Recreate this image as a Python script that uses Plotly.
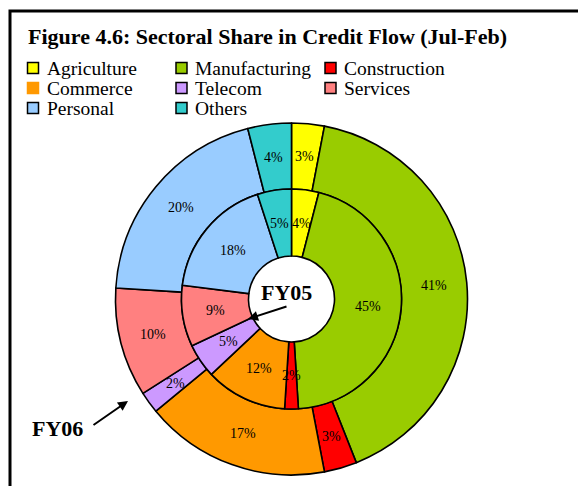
import math
import plotly.graph_objects as go

# ---- data ----
sectors = ["Agriculture", "Manufacturing", "Construction", "Commerce",
           "Telecom", "Services", "Personal", "Others"]
fy05 = [4, 45, 2, 12, 5, 9, 18, 5]   # inner ring
fy06 = [3, 41, 3, 17, 2, 10, 20, 4]  # outer ring
colors = ["#FFFF00", "#99CC00", "#FF0000", "#FF9900",
          "#CC99FF", "#FF8080", "#99CCFF", "#33CCCC"]
legend_border = ["black", "black", "black", "#FF9900",
                 "black", "black", "black", "black"]

W, H = 578, 486
SERIF = "Liberation Serif, Times New Roman, serif"


def px(x):
    return x / W


def py(y):
    return 1 - y / H


cx, cy = 291.5, 299
R_out, R_in, R_hole = 176, 110, 43


def dom(r):
    return dict(x=[px(cx - r), px(cx + r)], y=[py(cy + r), py(cy - r)])


fig = go.Figure()
fig.add_trace(go.Pie(
    labels=sectors, values=fy06, name="FY06", sort=False, direction="clockwise",
    rotation=0, hole=R_in / R_out, domain=dom(R_out),
    marker=dict(colors=colors, line=dict(color="black", width=1.6)),
    textinfo="none", showlegend=False, hoverinfo="label+value",
))
fig.add_trace(go.Pie(
    labels=sectors, values=fy05, name="FY05", sort=False, direction="clockwise",
    rotation=0, hole=R_hole / R_in, domain=dom(R_in),
    marker=dict(colors=colors, line=dict(color="black", width=1.6)),
    textinfo="none", showlegend=False, hoverinfo="label+value",
))

shapes = []
annotations = []


def ring_labels(values, r_mid):
    """Percent labels at the middle of each slice (clockwise from 12 o'clock)."""
    total = float(sum(values))
    cum = 0.0
    for v in values:
        mid = (cum + v / 2.0) / total * 2 * math.pi
        cum += v
        x = cx + r_mid * math.sin(mid)
        y = cy - r_mid * math.cos(mid)
        annotations.append(dict(text=f"{v}%", xref="paper", yref="paper",
                                x=px(x), y=py(y), xanchor="center", yanchor="middle",
                                showarrow=False,
                                font=dict(family=SERIF, size=14, color="black")))


ring_labels(fy06, (R_in + R_out) / 2)
ring_labels(fy05, (R_hole + R_in) / 2)

# frame (right and bottom edges lie outside the picture)
shapes.append(dict(type="rect", xref="paper", yref="paper",
                   x0=px(10), x1=px(640), y0=py(560), y1=py(11),
                   line=dict(color="black", width=3), fillcolor="rgba(0,0,0,0)"))

# legend (3 columns, row-major)
col_x = [27.5, 176, 325]
row_y = [68, 88, 108]
sq = 11
for i, (name, c, b) in enumerate(zip(sectors, colors, legend_border)):
    r, k = divmod(i, 3)
    x0, yc = col_x[k], row_y[r]
    shapes.append(dict(type="rect", xref="paper", yref="paper",
                       x0=px(x0), x1=px(x0 + sq), y0=py(yc + sq / 2), y1=py(yc - sq / 2),
                       fillcolor=c, line=dict(color=b, width=1.5)))
    annotations.append(dict(text=name, xref="paper", yref="paper",
                            x=px(x0 + sq + 6), y=py(yc), xanchor="left", yanchor="middle",
                            showarrow=False, font=dict(family=SERIF, size=19.5, color="black")))

# ring labels with arrows
annotations.append(dict(text="<b>FY05</b>", xref="paper", yref="paper",
                        x=px(286), y=py(292), xanchor="center", yanchor="middle",
                        showarrow=False,
                        font=dict(family=SERIF, size=22, color="black")))
annotations.append(dict(text="", xref="paper", yref="paper",
                        x=px(248), y=py(319), ax=40, ay=-13, showarrow=True,
                        arrowhead=2, arrowsize=1, arrowwidth=2, arrowcolor="black"))
annotations.append(dict(text="<b>FY06</b>", xref="paper", yref="paper",
                        x=px(57), y=py(428), xanchor="center", yanchor="middle",
                        showarrow=False,
                        font=dict(family=SERIF, size=22, color="black")))
annotations.append(dict(text="", xref="paper", yref="paper",
                        x=px(128), y=py(401), ax=-36, ay=25, showarrow=True,
                        arrowhead=2, arrowsize=1, arrowwidth=2, arrowcolor="black"))

fig.update_layout(
    width=W, height=H,
    margin=dict(l=0, r=0, t=0, b=0),
    paper_bgcolor="white", plot_bgcolor="white",
    title=dict(text="<b>Figure 4.6: Sectoral Share in Credit Flow (Jul-Feb)</b>",
               xref="container", yref="container", x=px(28), y=py(36),
               xanchor="left", yanchor="middle",
               font=dict(family=SERIF, size=22, color="black")),
    shapes=shapes, annotations=annotations,
)

fig.write_html(
    "out.html",
    config={"displayModeBar": False},
    post_script="document.body.style.margin='0px';document.body.style.overflow='hidden';",
)
